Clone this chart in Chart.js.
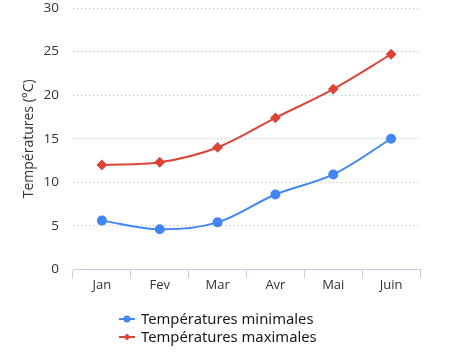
<!DOCTYPE html>
<html>
<head>
<meta charset="utf-8">
<script src="https://cdn.jsdelivr.net/npm/chart.js@4"></script>
<style>
  html, body { margin: 0; padding: 0; background: #fff; overflow: hidden; }
  #wrap { position: relative; width: 452px; height: 354px; overflow: hidden; }
  #myChart { display: block; margin-top: -14px; }
  #legend { position: absolute; left: 119px; top: 309px; font-family: "Noto Sans", sans-serif; font-size: 14.8px; color: #1a1a1a; }
  #legend div { height: 18px; line-height: 18px; white-space: nowrap; }
  #legend canvas { vertical-align: middle; margin-right: 6px; position: relative; top: -1px; }
</style>
</head>
<body>
<div id="wrap">
  <canvas id="myChart" width="452" height="368"></canvas>
  <div id="legend"></div>
</div>
<script>
const months = ['Jan', 'Fev', 'Mar', 'Avr', 'Mai', 'Juin'];
const minTemps = [5.6, 4.6, 5.4, 8.6, 10.9, 15.0];
const maxTemps = [12.0, 12.3, 14.0, 17.4, 20.7, 24.7];
const yTicks = [0, 5, 10, 15, 20, 25, 30];

const blue = '#4285f4';
const red = '#db4437';

const ctx = document.getElementById('myChart');

new Chart(ctx, {
  type: 'line',
  data: {
    labels: months,
    datasets: [{
      label: 'Températures minimales',
      data: minTemps,
      borderColor: blue,
      backgroundColor: blue,
      borderWidth: 2,
      pointStyle: 'circle',
      pointRadius: 4,
      tension: 0.35
    }, {
      label: 'Températures maximales',
      data: maxTemps,
      borderColor: red,
      backgroundColor: red,
      borderWidth: 2,
      pointStyle: 'rectRot',
      pointRadius: 4,
      tension: 0.35
    }]
  },
  options: {
    responsive: false,
    animation: false,
    layout: { padding: { top: -11, right: 32, bottom: 62, left: 0 } },
    plugins: {
      legend: { display: false },
      tooltip: { enabled: false }
    },
    scales: {
      x: {
        offset: true,
        grid: { offset: true, drawOnChartArea: false, tickLength: 9, color: '#c3cfde' },
        border: { color: '#c3cfde' },
        ticks: { color: '#333', font: { family: 'Open Sans', size: 13 }, padding: -1 }
      },
      y: {
        min: 0,
        max: 30,
        afterBuildTicks: (axis) => { axis.ticks = yTicks.map(v => ({ value: v })); },
        afterFit: (axis) => { axis.width = 73; },
        grid: { color: '#bdbdbd', drawTicks: false, lineWidth: 1 },
        border: { display: false, dash: [1, 3] },
        ticks: { color: '#333', font: { family: 'Open Sans', size: 13.5 }, padding: 14 },
        title: { display: true, text: 'Températures (°C)', color: '#333', font: { family: 'Open Sans', size: 14 }, padding: { top: 21, bottom: 0 } }
      }
    }
  }
});

// legend built below the chart, line with marker like the original
const legend = document.getElementById('legend');
[[minTemps, 'Températures minimales', blue, 'circle'], [maxTemps, 'Températures maximales', red, 'diamond']].forEach(function (item) {
  const row = document.createElement('div');
  const c = document.createElement('canvas');
  c.width = 16; c.height = 10;
  const g = c.getContext('2d');
  g.strokeStyle = item[2]; g.fillStyle = item[2]; g.lineWidth = 2;
  g.beginPath(); g.moveTo(0, 5); g.lineTo(16, 5); g.stroke();
  g.beginPath();
  if (item[3] === 'circle') {
    g.arc(8, 5, 3.5, 0, Math.PI * 2);
  } else {
    g.moveTo(8, 1.5); g.lineTo(11.5, 5); g.lineTo(8, 8.5); g.lineTo(4.5, 5); g.closePath();
  }
  g.fill();
  row.appendChild(c);
  row.appendChild(document.createTextNode(item[1]));
  legend.appendChild(row);
});
</script>
</body>
</html>
